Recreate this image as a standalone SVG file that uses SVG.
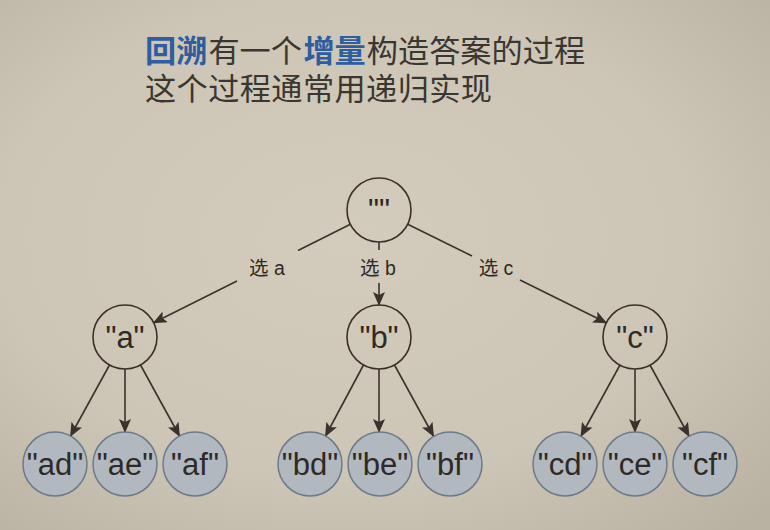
<svg xmlns="http://www.w3.org/2000/svg" width="770" height="530" viewBox="0 0 770 530">
<defs>
<radialGradient id="bg" cx="0.45" cy="0.45" r="0.75">
<stop offset="0" stop-color="#d3ccbd"/>
<stop offset="0.6" stop-color="#cdc6b6"/>
<stop offset="1" stop-color="#b9b1a2"/>
</radialGradient>
<marker id="arr" markerUnits="userSpaceOnUse" markerWidth="14" markerHeight="12" refX="13" refY="6" orient="auto">
<path d="M0,0 L14,6 L0,12 L3,6 Z" fill="#3a322c"/>
</marker>
<style>
.t{font-family:"Noto Sans CJK SC","Noto Sans",sans-serif;font-size:31.2px;fill:#3a3631}
.hl{fill:#2e5e9f;font-weight:bold}
.n{fill:none;stroke:#3a3029;stroke-width:1.6}
.leaf{fill:#b2b8bf;stroke:#6d7a8a;stroke-width:1.5}
.lbl{font-family:"Liberation Sans",Arial,sans-serif;font-size:31px;fill:#2e2a26;text-anchor:middle}
.el{font-family:"Liberation Sans","Noto Sans CJK SC",sans-serif;font-size:19.5px;fill:#2e2a26;text-anchor:middle}
.e{fill:none;stroke:#3a322c;stroke-width:1.6}
</style>
</defs>
<rect width="770" height="530" fill="url(#bg)"/>
<g id="title">
<text class="t hl" x="145" y="62">回溯</text>
<text class="t" x="208.4" y="62">有一个</text>
<text class="t hl" x="303.4" y="62">增量</text>
<text class="t" x="366.8" y="62">构造答案的过程</text>
<text class="t" x="145" y="100" textLength="347" lengthAdjust="spacing">这个过程通常用递归实现</text>
</g>
<g id="connectors">
<path class="e" d="M350.4,224.3 L298,250.5 M237,281 L153.6,322.7" marker-end="url(#arr)"/>
<path class="e" d="M379,242 L379,250 M379,283 L379,305" marker-end="url(#arr)"/>
<path class="e" d="M407.7,224.2 L472,256 M520,280 L606.3,322.8" marker-end="url(#arr)"/>
<path class="e" d="M109.5,365 L70.5,436" marker-end="url(#arr)"/>
<path class="e" d="M125,369 L125,432" marker-end="url(#arr)"/>
<path class="e" d="M140.5,365 L179.5,436" marker-end="url(#arr)"/>
<path class="e" d="M363.5,365 L325.5,436" marker-end="url(#arr)"/>
<path class="e" d="M379,369 L379,432" marker-end="url(#arr)"/>
<path class="e" d="M394.5,365 L433.5,436" marker-end="url(#arr)"/>
<path class="e" d="M620,365 L581,436" marker-end="url(#arr)"/>
<path class="e" d="M635,369 L635,432" marker-end="url(#arr)"/>
<path class="e" d="M650,365 L689,436" marker-end="url(#arr)"/>
<text class="el" x="267" y="275">选 a</text>
<text class="el" x="378" y="275">选 b</text>
<text class="el" x="496" y="275">选 c</text>
</g>
<g id="root"><circle class="n" cx="379" cy="210" r="32"/><text class="lbl" x="379" y="221">""</text></g>
<g id="a"><circle class="n" cx="125" cy="337" r="32"/><text class="lbl" x="125" y="348">"a"</text></g>
<g id="b"><circle class="n" cx="379" cy="337" r="32"/><text class="lbl" x="379" y="348">"b"</text></g>
<g id="c"><circle class="n" cx="635" cy="337" r="32"/><text class="lbl" x="635" y="348">"c"</text></g>
<g id="ad"><circle class="leaf" cx="55" cy="464" r="32"/><text class="lbl" x="55" y="475">"ad"</text></g>
<g id="ae"><circle class="leaf" cx="125" cy="464" r="32"/><text class="lbl" x="125" y="475">"ae"</text></g>
<g id="af"><circle class="leaf" cx="195" cy="464" r="32"/><text class="lbl" x="195" y="475">"af"</text></g>
<g id="bd"><circle class="leaf" cx="310" cy="464" r="32"/><text class="lbl" x="310" y="475">"bd"</text></g>
<g id="be"><circle class="leaf" cx="380" cy="464" r="32"/><text class="lbl" x="380" y="475">"be"</text></g>
<g id="bf"><circle class="leaf" cx="450" cy="464" r="32"/><text class="lbl" x="450" y="475">"bf"</text></g>
<g id="cd"><circle class="leaf" cx="565" cy="464" r="32"/><text class="lbl" x="565" y="475">"cd"</text></g>
<g id="ce"><circle class="leaf" cx="635" cy="464" r="32"/><text class="lbl" x="635" y="475">"ce"</text></g>
<g id="cf"><circle class="leaf" cx="705" cy="464" r="32"/><text class="lbl" x="705" y="475">"cf"</text></g>
</svg>
